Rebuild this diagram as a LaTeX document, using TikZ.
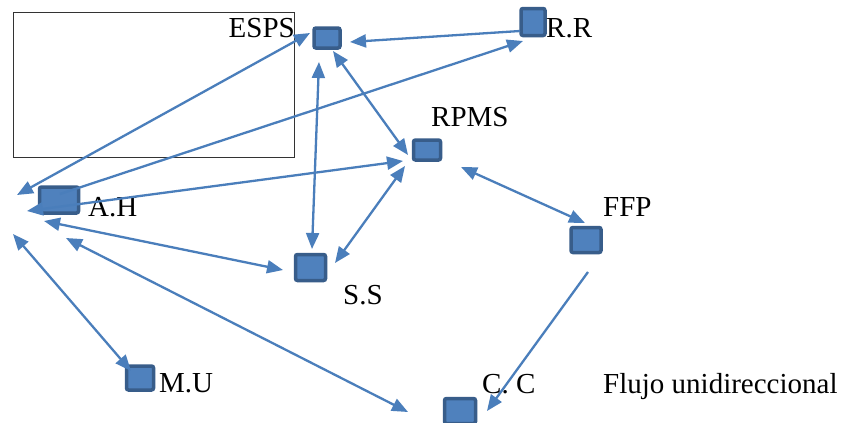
\documentclass[tikz,border=0pt]{standalone}
\usepackage{fontspec}
\setmainfont{Liberation Serif}
\usetikzlibrary{arrows.meta}
\definecolor{nodefill}{HTML}{4F81BD}
\definecolor{nodeedge}{HTML}{385D8A}
\definecolor{linkblue}{HTML}{4A7EBB}
\tikzset{
  box/.style={draw=nodeedge, fill=nodefill, line width=3.5pt, rounded corners=2pt, inner sep=0pt},
  lbl/.style={font=\fontsize{29}{32}\selectfont, inner sep=0pt, text=black},
  link/.style={draw=linkblue, line width=2.3pt},
  tipA/.style={-{Triangle[length=16pt,width=13pt]}},
  tipB/.style={{Triangle[length=16pt,width=13pt]}-{Triangle[length=16pt,width=13pt]}}
}
\begin{document}
\begin{tikzpicture}[x=1pt,y=-1pt]
\useasboundingbox (0,0) rectangle (846,423);
\fill[white] (0,0) rectangle (846,423);
% frame
\draw[draw=black!80, line width=1pt] (13,12) rectangle (294,157);
% nodes
\node[box, minimum width=26pt, minimum height=20pt] (esps) at (327,38) {};
\node[box, minimum width=24pt, minimum height=27pt] (rr) at (533,22) {};
\node[box, minimum width=27pt, minimum height=20pt] (rpms) at (427,150) {};
\node[box, minimum width=30pt, minimum height=25pt] (ffp) at (586,240) {};
\node[box, minimum width=39pt, minimum height=26pt] (ah) at (59,200) {};
\node[box, minimum width=30pt, minimum height=26pt] (ss) at (310.5,267.5) {};
\node[box, minimum width=27pt, minimum height=24pt] (cmu) at (140,378) {};
\node[box, minimum width=31pt, minimum height=25pt] (cc) at (460,411) {};
% labels
\node[lbl, anchor=base east] (tesps) at (295,37) {ESPS};
\node[lbl, anchor=base west] (trr) at (546,37) {R.R};
\node[lbl, anchor=base west] (trpms) at (431,126) {RPMS};
\node[lbl, anchor=base west] (tffp) at (603,216) {FFP};
\node[lbl, anchor=base west] (tah) at (88,216) {A.H};
\node[lbl, anchor=base west] (tss) at (343,304) {S.S};
\node[lbl, anchor=base west] (tmu) at (159,392) {M.U};
\node[lbl, anchor=base west] (tcc) at (482,393) {C. C};
\node[lbl, anchor=base west] (tflujo) at (603,393) {Flujo unidireccional};
% connector ends
\coordinate (rrL) at (520,31);
\coordinate (espsR) at (350,42);
\coordinate (espsBL) at (310,33);
\coordinate (ahA) at (17,195);
\coordinate (ahIn) at (60,194);
\coordinate (rrBL) at (523,41);
\coordinate (rpmsL) at (403,161);
\coordinate (ahB) at (27,211);
\coordinate (ssL) at (283,270);
\coordinate (ahC) at (44,221);
\coordinate (espsB) at (319,62);
\coordinate (ssT) at (312,249);
\coordinate (espsBR) at (333,51);
\coordinate (rpmsUL) at (408,155);
\coordinate (rpmsLL) at (405,166);
\coordinate (ssR) at (335,263);
\coordinate (rpmsR) at (461,167);
\coordinate (ffpT) at (585,223);
\coordinate (ffpB) at (588,272);
\coordinate (ccR) at (487,411);
\coordinate (ahD) at (66,238);
\coordinate (ccL) at (408,412);
\coordinate (ahE) at (13,234);
\coordinate (cmuT) at (131,371);
% connectors
\draw[link, tipA] (rrL) -- (espsR);
\draw[link, tipB] (ahA) -- (espsBL);
\draw[link, tipA] (ahIn) -- (rrBL);
\draw[link, tipB] (ahB) -- (rpmsL);
\draw[link, tipB] (ahC) -- (ssL);
\draw[link, tipB] (espsB) -- (ssT);
\draw[link, tipB] (espsBR) -- (rpmsUL);
\draw[link, tipB] (rpmsLL) -- (ssR);
\draw[link, tipB] (rpmsR) -- (ffpT);
\draw[link, tipA] (ffpB) -- (ccR);
\draw[link, tipB] (ahD) -- (ccL);
\draw[link, tipB] (ahE) -- (cmuT);
\end{tikzpicture}
\end{document}
